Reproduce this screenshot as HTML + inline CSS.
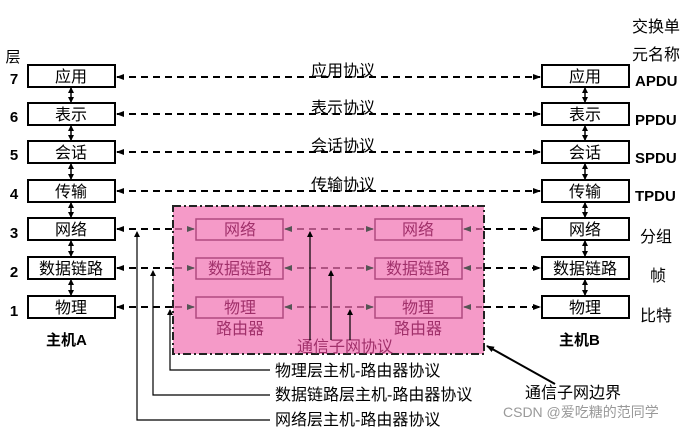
<!DOCTYPE html>
<html><head><meta charset="utf-8"><style>
html,body{margin:0;padding:0;background:#fff;width:690px;height:430px;overflow:hidden}
svg{display:block}
text{font-family:"Liberation Sans","Noto Sans CJK SC",sans-serif}
</style></head><body>
<svg width="690" height="430" viewBox="0 0 690 430" xmlns="http://www.w3.org/2000/svg">
<defs>
<marker id="a" markerWidth="8" markerHeight="6" refX="7" refY="3" orient="auto-start-reverse" markerUnits="userSpaceOnUse"><path d="M0,0 L8,3 L0,6 z" fill="#000"/></marker>
<marker id="ag" markerWidth="8" markerHeight="6" refX="7" refY="3" orient="auto-start-reverse" markerUnits="userSpaceOnUse"><path d="M0,0 L8,3 L0,6 z" fill="#555"/></marker>
<marker id="as" markerWidth="6" markerHeight="6" refX="5" refY="3" orient="auto-start-reverse" markerUnits="userSpaceOnUse"><path d="M0,0 L6,3 L0,6 z" fill="#000"/></marker>
</defs>
<rect x="173" y="206" width="311" height="148" fill="#f59ac8" stroke="#222" stroke-width="2" stroke-dasharray="8,3,2,3"/>
<g font-size="15" text-anchor="middle">
<text x="13" y="62">层</text>
</g>
<g font-size="15" font-weight="bold" text-anchor="middle">
<text x="14" y="84">7</text><text x="14" y="122">6</text><text x="14" y="160">5</text><text x="14" y="199">4</text><text x="14" y="238">3</text><text x="14" y="277">2</text><text x="14" y="316">1</text>
</g>
<g stroke="#000" stroke-width="2" fill="#fff">
<rect x="28" y="65" width="87" height="22"/><rect x="28" y="103" width="87" height="22"/><rect x="28" y="141" width="87" height="22"/><rect x="28" y="180" width="87" height="22"/><rect x="28" y="218" width="87" height="22"/><rect x="28" y="257" width="87" height="22"/><rect x="28" y="296" width="87" height="22"/>
<rect x="542" y="65" width="87" height="22"/><rect x="542" y="103" width="87" height="22"/><rect x="542" y="141" width="87" height="22"/><rect x="542" y="180" width="87" height="22"/><rect x="542" y="218" width="87" height="22"/><rect x="542" y="257" width="87" height="22"/><rect x="542" y="296" width="87" height="22"/>
</g>
<g stroke="#b04a80" stroke-width="1.5" fill="none">
<rect x="196" y="219" width="87" height="21"/><rect x="196" y="258" width="87" height="21"/><rect x="196" y="297" width="87" height="21"/>
<rect x="375" y="219" width="87" height="21"/><rect x="375" y="258" width="87" height="21"/><rect x="375" y="297" width="87" height="21"/>
</g>
<g font-size="16" text-anchor="middle">
<text x="71" y="82">应用</text><text x="71" y="120">表示</text><text x="71" y="158">会话</text><text x="71" y="197">传输</text><text x="71" y="235">网络</text><text x="71" y="274">数据链路</text><text x="71" y="313">物理</text>
<text x="585" y="82">应用</text><text x="585" y="120">表示</text><text x="585" y="158">会话</text><text x="585" y="197">传输</text><text x="585" y="235">网络</text><text x="585" y="274">数据链路</text><text x="585" y="313">物理</text>
</g>
<g font-size="16" text-anchor="middle" fill="#a0306a">
<text x="240" y="235">网络</text><text x="240" y="274">数据链路</text><text x="240" y="313">物理</text><text x="240" y="334">路由器</text>
<text x="418" y="235">网络</text><text x="418" y="274">数据链路</text><text x="418" y="313">物理</text><text x="418" y="334">路由器</text>
<text x="345" y="352">通信子网协议</text>
</g>
<g stroke="#000" stroke-width="1.5">
<line x1="71" y1="88" x2="71" y2="102" marker-start="url(#as)" marker-end="url(#as)"/>
<line x1="71" y1="126" x2="71" y2="140" marker-start="url(#as)" marker-end="url(#as)"/>
<line x1="71" y1="164" x2="71" y2="179" marker-start="url(#as)" marker-end="url(#as)"/>
<line x1="71" y1="203" x2="71" y2="217" marker-start="url(#as)" marker-end="url(#as)"/>
<line x1="71" y1="241" x2="71" y2="256" marker-start="url(#as)" marker-end="url(#as)"/>
<line x1="71" y1="280" x2="71" y2="295" marker-start="url(#as)" marker-end="url(#as)"/>
<line x1="585" y1="88" x2="585" y2="102" marker-start="url(#as)" marker-end="url(#as)"/>
<line x1="585" y1="126" x2="585" y2="140" marker-start="url(#as)" marker-end="url(#as)"/>
<line x1="585" y1="164" x2="585" y2="179" marker-start="url(#as)" marker-end="url(#as)"/>
<line x1="585" y1="203" x2="585" y2="217" marker-start="url(#as)" marker-end="url(#as)"/>
<line x1="585" y1="241" x2="585" y2="256" marker-start="url(#as)" marker-end="url(#as)"/>
<line x1="585" y1="280" x2="585" y2="295" marker-start="url(#as)" marker-end="url(#as)"/>
</g>
<g stroke="#000" stroke-width="2" stroke-dasharray="7,5" fill="none">
<line x1="117" y1="77" x2="540" y2="77" marker-start="url(#a)" marker-end="url(#a)"/>
<line x1="117" y1="114" x2="540" y2="114" marker-start="url(#a)" marker-end="url(#a)"/>
<line x1="117" y1="152" x2="540" y2="152" marker-start="url(#a)" marker-end="url(#a)"/>
<line x1="117" y1="191" x2="540" y2="191" marker-start="url(#a)" marker-end="url(#a)"/>
<line x1="117" y1="229" x2="173" y2="229" marker-start="url(#a)"/>
<line x1="117" y1="268" x2="173" y2="268" marker-start="url(#a)"/>
<line x1="117" y1="307" x2="173" y2="307" marker-start="url(#a)"/>
<line x1="484" y1="229" x2="540" y2="229" marker-end="url(#a)"/>
<line x1="484" y1="268" x2="540" y2="268" marker-end="url(#a)"/>
<line x1="484" y1="307" x2="540" y2="307" marker-end="url(#a)"/>
</g>
<g stroke="#9a3c6c" stroke-width="1.5" stroke-dasharray="7,5" fill="none">
<line x1="175" y1="229" x2="194" y2="229" marker-end="url(#ag)"/><line x1="175" y1="268" x2="194" y2="268" marker-end="url(#ag)"/><line x1="175" y1="307" x2="194" y2="307" marker-end="url(#ag)"/>
<line x1="285" y1="229" x2="373" y2="229" marker-start="url(#ag)" marker-end="url(#ag)"/>
<line x1="285" y1="268" x2="373" y2="268" marker-start="url(#ag)" marker-end="url(#ag)"/>
<line x1="285" y1="307" x2="373" y2="307" marker-start="url(#ag)" marker-end="url(#ag)"/>
<line x1="464" y1="229" x2="482" y2="229" marker-start="url(#ag)"/><line x1="464" y1="268" x2="482" y2="268" marker-start="url(#ag)"/><line x1="464" y1="307" x2="482" y2="307" marker-start="url(#ag)"/>
</g>
<g stroke="#000" stroke-width="1.2" fill="none">
<line x1="310" y1="340" x2="310" y2="232" marker-end="url(#as)"/>
<line x1="331" y1="340" x2="331" y2="271" marker-end="url(#as)"/>
<line x1="350" y1="340" x2="350" y2="310" marker-end="url(#as)"/>
<polyline points="270,370 170,370 170,310" marker-end="url(#as)"/>
<polyline points="270,395 153,395 153,271" marker-end="url(#as)"/>
<polyline points="270,420 137,420 137,232" marker-end="url(#as)"/>
<line x1="555" y1="384" x2="487" y2="346" stroke-width="2" marker-end="url(#a)"/>
</g>
<g font-size="16" text-anchor="middle">
<text x="343" y="76">应用协议</text><text x="343" y="113">表示协议</text><text x="343" y="151">会话协议</text><text x="343" y="190">传输协议</text>
</g>
<g font-size="16">
<text x="275" y="376">物理层主机-路由器协议</text>
<text x="275" y="400">数据链路层主机-路由器协议</text>
<text x="275" y="425">网络层主机-路由器协议</text>
<text x="525" y="398">通信子网边界</text>
<text x="632" y="32">交换单</text><text x="632" y="60">元名称</text>
<text x="640" y="242">分组</text><text x="650" y="281">帧</text><text x="640" y="321">比特</text>
</g>
<g font-size="15" font-weight="bold">
<text x="635" y="86">APDU</text><text x="635" y="125">PPDU</text><text x="635" y="163">SPDU</text><text x="635" y="201">TPDU</text>
<text x="46" y="345">主机A</text><text x="559" y="345">主机B</text>
</g>
<text x="503" y="417" font-size="14" fill="#999">CSDN @爱吃糖的范同学</text>
</svg>
</body></html>
